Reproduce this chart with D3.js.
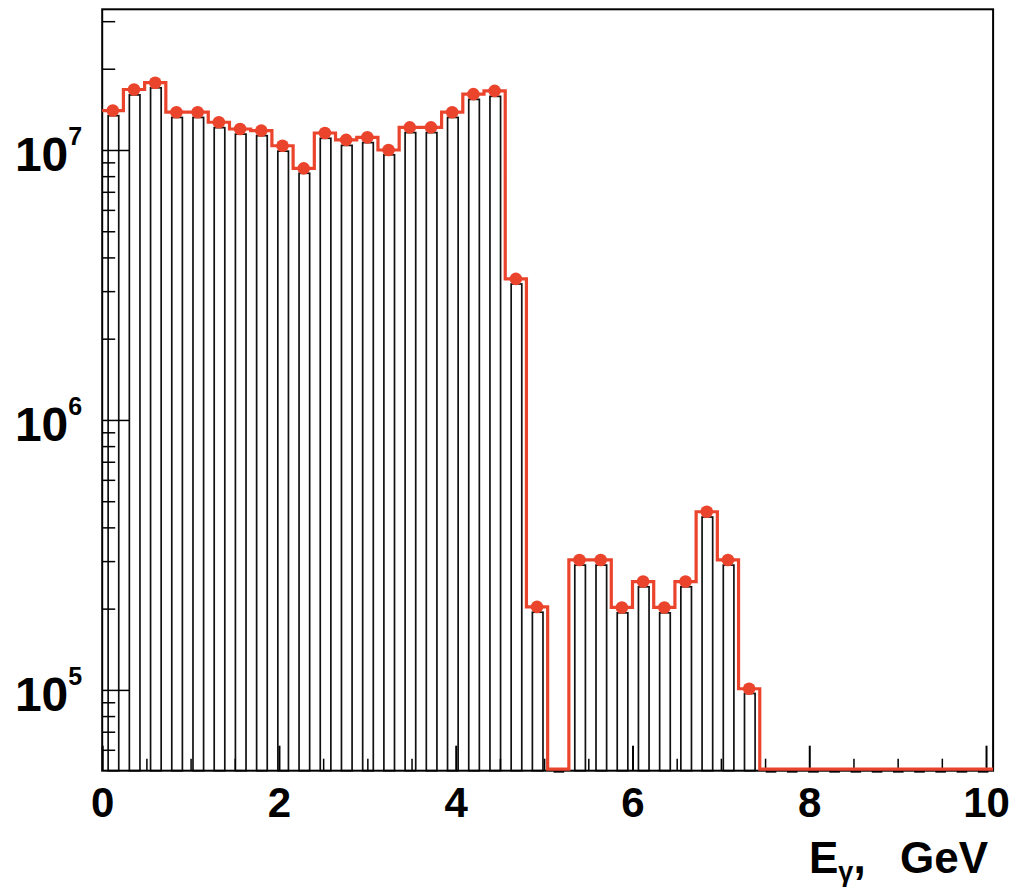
<!DOCTYPE html>
<html>
<head>
<meta charset="utf-8">
<script src="https://cdn.jsdelivr.net/npm/d3@7"></script>
<style>
  html, body { margin: 0; padding: 0; background: #fff; }
  svg { display: block; }
  text { font-family: "Liberation Sans", Arial, Helvetica, sans-serif; font-weight: bold; fill: #000; }
</style>
</head>
<body>
<svg id="chart" width="1017" height="896"></svg>
<script>
// ---------------- data ----------------
const binWidth = 0.24;           // GeV
const nBins = 42;                // 0 .. 10.08 GeV
// red histogram (points + step line), counts per bin
const redValues = [
  1.40e7, 1.675e7, 1.775e7, 1.38e7, 1.38e7, 1.267e7, 1.196e7, 1.18e7, 1.037e7, 8.55e6,
  1.156e7, 1.09e7, 1.114e7, 1.0e7, 1.213e7, 1.213e7, 1.38e7, 1.61e7, 1.655e7, 3.33e6,
  2.03e5, 0, 3.03e5, 3.03e5, 2.02e5, 2.52e5, 2.02e5, 2.52e5, 4.57e5, 3.03e5,
  1.01e5, 0, 0, 0, 0, 0, 0, 0, 0, 0,
  0, 0
];
// black bars, counts per bin
const blackValues = [
  1.34e7, 1.60e7, 1.70e7, 1.32e7, 1.32e7, 1.21e7, 1.145e7, 1.13e7, 9.9e6, 8.2e6,
  1.105e7, 1.04e7, 1.065e7, 9.6e6, 1.16e7, 1.16e7, 1.32e7, 1.54e7, 1.58e7, 3.19e6,
  1.94e5, 0, 2.9e5, 2.9e5, 1.93e5, 2.41e5, 1.93e5, 2.41e5, 4.37e5, 2.9e5,
  9.7e4, 0, 0, 0, 0, 0, 0, 0, 0, 0,
  0, 0
];
const xMajorTicks = [0, 2, 4, 6, 8, 10];
const xMinorTicks = [0.5, 1, 1.5, 2.5, 3, 3.5, 4.5, 5, 5.5, 6.5, 7, 7.5, 8.5, 9, 9.5];
const yMajorTicks = [1e5, 1e6, 1e7];
const yMajorExponents = ["5", "6", "7"];
const yMinorTicks = [6e4, 7e4, 8e4, 9e4, 2e5, 3e5, 4e5, 5e5, 6e5, 7e5, 8e5, 9e5,
  2e6, 3e6, 4e6, 5e6, 6e6, 7e6, 8e6, 9e6, 2e7, 3e7];
const xTitleMain = "E";
const xTitleSub = "γ";
const xTitleUnit = "GeV";

(function () {
// ---------------- layout ----------------
const pLeft = 102.2, pRight = 993.1, pTop = 9.3, pBottom = 770.7;
const red = "#eb442c";

const svg = d3.select("#chart");
svg.append("rect").attr("width", 1017).attr("height", 896).attr("fill", "#fff");

const x = d3.scaleLinear().domain([0, nBins * binWidth]).range([pLeft, pRight]);
const y = d3.scaleLog().domain([5.02e4, 3.32e7]).range([pBottom, pTop]);

const bins = d3.range(nBins).map(i => ({
  i, x0: i * binWidth, x1: (i + 1) * binWidth, red: redValues[i], black: blackValues[i]
}));

// black bars
const bw = x(binWidth) - x(0);
const barG = svg.append("g");
barG.selectAll("rect.bar")
  .data(bins.filter(d => d.black > 0))
  .join("rect")
  .attr("class", "bar")
  .attr("x", d => x(d.x0) + 0.28 * bw)
  .attr("width", 0.5 * bw)
  .attr("y", d => y(d.black))
  .attr("height", d => pBottom - y(d.black))
  .attr("fill", "none")
  .attr("stroke", "#111")
  .attr("stroke-width", 1.7);
barG.selectAll("line.zero")
  .data(bins.filter(d => d.black <= 0))
  .join("line")
  .attr("class", "zero")
  .attr("x1", d => x(d.x0) + 0.28 * bw)
  .attr("x2", d => x(d.x0) + 0.78 * bw)
  .attr("y1", pBottom + 1)
  .attr("y2", pBottom + 1)
  .attr("stroke", "#111")
  .attr("stroke-width", 2);

// frame
svg.append("rect")
  .attr("x", pLeft).attr("y", pTop)
  .attr("width", pRight - pLeft).attr("height", pBottom - pTop)
  .attr("fill", "none").attr("stroke", "#000").attr("stroke-width", 2);

// axes
const gx = svg.append("g").attr("transform", `translate(0,${pBottom})`)
  .call(d3.axisBottom(x).tickValues(xMajorTicks).tickSize(-25).tickPadding(16).tickFormat(d3.format("d")));
gx.select(".domain").remove();
gx.selectAll(".tick line").attr("stroke-width", 2);
gx.selectAll(".tick text").attr("font-size", 42).attr("font-family", null).attr("fill", "#000");

const gxm = svg.append("g").attr("transform", `translate(0,${pBottom})`)
  .call(d3.axisBottom(x).tickValues(xMinorTicks).tickSize(-12).tickFormat(""));
gxm.select(".domain").remove();
gxm.selectAll(".tick line").attr("stroke-width", 1.5);

const gy = svg.append("g").attr("transform", `translate(${pLeft},0)`)
  .call(d3.axisLeft(y).tickValues(yMajorTicks).tickSize(-27).tickPadding(20).tickFormat(() => ""));
gy.select(".domain").remove();
gy.selectAll(".tick line").attr("stroke-width", 1.5);
gy.selectAll(".tick text")
  .attr("dy", null).attr("y", 21).attr("font-family", null).attr("fill", "#000")
  .each(function(d, i) {
    const t = d3.select(this);
    t.text(null);
    t.append("tspan").attr("font-size", 48).text("10");
    t.append("tspan").attr("font-size", 25).attr("dy", -26).text(yMajorExponents[i]);
  });

const gym = svg.append("g").attr("transform", `translate(${pLeft},0)`)
  .call(d3.axisLeft(y).tickValues(yMinorTicks).tickSize(-13).tickFormat(""));
gym.select(".domain").remove();
gym.selectAll(".tick line").attr("stroke-width", 1.5);

// red step line
const stepY = v => v > 0 ? y(v) : pBottom - 1.5;
const pts = [];
bins.forEach(d => { pts.push([x(d.x0), stepY(d.red)]); pts.push([x(d.x1), stepY(d.red)]); });
svg.append("path")
  .attr("d", d3.line()(pts))
  .attr("fill", "none")
  .attr("stroke", red)
  .attr("stroke-width", 3.2)
  .attr("stroke-linejoin", "miter");

// markers
svg.append("g").selectAll("circle")
  .data(bins.filter(d => d.red > 0))
  .join("circle")
  .attr("cx", d => x((d.x0 + d.x1) / 2))
  .attr("cy", d => y(d.red))
  .attr("r", 6.3)
  .attr("fill", red);

// x title
const title = svg.append("text").attr("x", 809).attr("y", 873).attr("font-size", 44);
title.append("tspan").text(xTitleMain);
title.append("tspan").attr("font-size", 27).attr("dy", 8).text(xTitleSub);
title.append("tspan").attr("dy", -8).text(",");
title.append("tspan").attr("x", 900).text(xTitleUnit);
})();
</script>
</body>
</html>
